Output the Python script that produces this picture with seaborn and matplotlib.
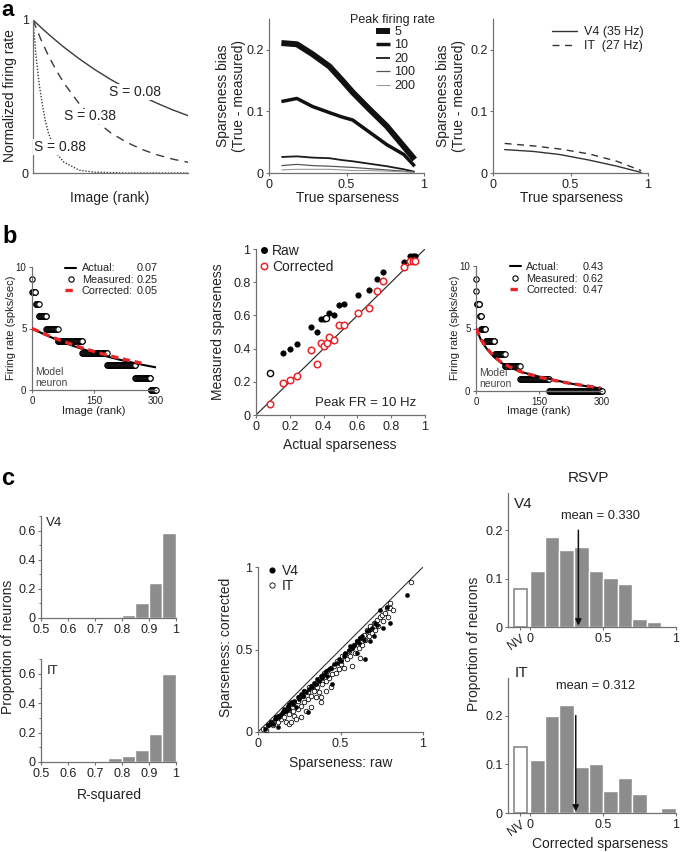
import numpy as np
import seaborn as sns
import matplotlib.pyplot as plt
from matplotlib.lines import Line2D
from matplotlib.ticker import MultipleLocator

# ---- panel a (left): normalized tuning curves, x = image rank as fraction of set
rank_frac = [0, 0.05, 0.1, 0.15, 0.2, 0.3, 0.4, 0.5, 0.6, 0.7, 0.8, 0.9, 1.0]
rate_s008 = [1.0, 0.953, 0.907, 0.864, 0.822, 0.745, 0.675, 0.612, 0.555, 0.503, 0.456, 0.413, 0.375]
rate_s038 = [1.0, 0.875, 0.766, 0.671, 0.587, 0.45, 0.345, 0.264, 0.203, 0.155, 0.119, 0.091, 0.07]
rank_frac_s088 = [0, 0.02, 0.04, 0.06, 0.08, 0.1, 0.15, 0.2, 0.3, 0.4, 0.6, 1.0]
rate_s088 = [1.0, 0.76, 0.58, 0.45, 0.34, 0.26, 0.13, 0.07, 0.018, 0.005, 0.0, 0.0]

# ---- panel a (middle): sparseness bias for several peak firing rates
true_sparse = [0.08, 0.18, 0.28, 0.39, 0.47, 0.54, 0.65, 0.76, 0.87, 0.94]
peak_rates = ["5", "10", "20", "100", "200"]
bias_peak5 = [0.211, 0.209, 0.193, 0.173, 0.151, 0.131, 0.103, 0.076, 0.043, 0.022]
bias_peak10 = [0.116, 0.121, 0.108, 0.098, 0.091, 0.086, 0.066, 0.046, 0.030, 0.011]
bias_peak20 = [0.026, 0.027, 0.025, 0.024, 0.021, 0.019, 0.015, 0.011, 0.006, 0.002]
bias_peak100 = [0.012, 0.014, 0.012, 0.011, 0.010, 0.009, 0.007, 0.005, 0.003, 0.001]
bias_peak200 = [0.005, 0.006, 0.006, 0.006, 0.005, 0.004, 0.004, 0.003, 0.002, 0.001]

# ---- panel a (right): bias at the measured V4 / IT rates
area_sparse = [0.075, 0.26, 0.43, 0.62, 0.80, 0.955]
v4_bias = [0.038, 0.035, 0.030, 0.021, 0.011, 0.001]
it_bias = [0.048, 0.044, 0.039, 0.031, 0.019, 0.004]

# ---- panel b: model neurons (spike count levels and how many images at each)
count_levels = [9, 8, 7, 6, 5, 4, 3, 2, 1, 0]
b1_counts = [1, 8, 8, 18, 28, 59, 60, 68, 37, 13]
b3_counts = [1, 1, 7, 4, 10, 22, 24, 36, 69, 126]
b1_rank = [0, 30, 60, 90, 120, 150, 180, 210, 240, 270, 300]
b1_actual = [5.0, 4.52, 4.09, 3.70, 3.35, 3.03, 2.74, 2.48, 2.25, 2.03, 1.84]
b1_corr_rank = [0, 30, 60, 90, 120, 150, 180, 210, 240, 265]
b1_corrected = [5.0, 4.56, 4.15, 3.78, 3.44, 3.13, 2.85, 2.60, 2.36, 2.18]
b3_rank = [0, 13, 25, 42, 60, 82, 110, 150, 190, 225, 260, 300]
b3_actual = [5.0, 4.0, 3.4, 2.75, 2.25, 1.87, 1.5, 1.15, 0.85, 0.6, 0.4, 0.19]
b3_corr_rank = [0, 13, 25, 42, 60, 82, 110, 150, 190, 225, 260, 296]
b3_corrected = [5.0, 4.05, 3.45, 2.8, 2.3, 1.9, 1.5, 1.12, 0.82, 0.6, 0.42, 0.25]
b1_values = ["0.07", "0.25", "0.05"]
b3_values = ["0.43", "0.62", "0.47"]

# ---- panel b (middle): raw vs corrected sparseness, peak FR 10 Hz
actual_sp = [0.157, 0.201, 0.243, 0.323, 0.363, 0.384, 0.404, 0.432, 0.464, 0.492,
             0.522, 0.606, 0.669, 0.715, 0.751, 0.873, 0.914, 0.930, 0.940]
raw_sp = [0.371, 0.395, 0.425, 0.532, 0.502, 0.579, 0.579, 0.617, 0.601, 0.663,
          0.667, 0.724, 0.754, 0.819, 0.859, 0.921, 0.956, 0.956, 0.956]
actual_sp_hollow = [0.082, 0.414]
raw_sp_hollow = [0.254, 0.583]
actual_sp_corr = [0.080, 0.157, 0.201, 0.243, 0.323, 0.363, 0.384, 0.404, 0.418, 0.432, 0.464,
                  0.492, 0.522, 0.606, 0.669, 0.715, 0.751, 0.873, 0.914, 0.930, 0.940]
corr_sp = [0.065, 0.194, 0.210, 0.236, 0.391, 0.306, 0.435, 0.413, 0.435, 0.472, 0.452,
           0.542, 0.542, 0.613, 0.647, 0.750, 0.808, 0.889, 0.925, 0.925, 0.925]

# ---- panel c (left): R-squared histograms
r2_bins = [0.5, 0.55, 0.6, 0.65, 0.7, 0.75, 0.8, 0.85, 0.9, 0.95]
r2_v4 = [0, 0, 0, 0.006, 0, 0, 0.02, 0.103, 0.24, 0.58]
r2_it = [0, 0, 0, 0, 0, 0.027, 0.043, 0.08, 0.193, 0.6]

# ---- panel c (middle): corrected vs raw sparseness per neuron
v4_raw = [0.04, 0.06, 0.07, 0.08, 0.09, 0.10, 0.11, 0.12, 0.12, 0.13, 0.14, 0.15, 0.16, 0.17,
          0.18, 0.19, 0.19, 0.20, 0.21, 0.22, 0.23, 0.24, 0.25, 0.26, 0.27, 0.28, 0.29, 0.30,
          0.31, 0.32, 0.33, 0.34, 0.35, 0.36, 0.37, 0.38, 0.39, 0.40, 0.41, 0.42, 0.43, 0.44,
          0.45, 0.46, 0.48, 0.49, 0.50, 0.52, 0.53, 0.55, 0.56, 0.57, 0.58, 0.60, 0.60, 0.61,
          0.62, 0.63, 0.64, 0.65, 0.66, 0.67, 0.68, 0.69, 0.70, 0.71, 0.72, 0.74, 0.76, 0.78,
          0.80, 0.90]
v4_corr = [0.02, 0.04, 0.05, 0.06, 0.05, 0.08, 0.09, 0.03, 0.10, 0.09, 0.11, 0.12, 0.14, 0.13,
           0.16, 0.17, 0.14, 0.18, 0.17, 0.19, 0.15, 0.21, 0.20, 0.23, 0.22, 0.25, 0.24, 0.12,
           0.26, 0.28, 0.27, 0.30, 0.29, 0.32, 0.31, 0.34, 0.33, 0.35, 0.37, 0.34, 0.38, 0.39,
           0.29, 0.41, 0.42, 0.44, 0.43, 0.46, 0.48, 0.50, 0.52, 0.51, 0.53, 0.48, 0.55, 0.54,
           0.57, 0.58, 0.56, 0.44, 0.61, 0.62, 0.55, 0.63, 0.58, 0.66, 0.65, 0.74, 0.63, 0.76,
           0.66, 0.83]
it_raw = [0.03, 0.05, 0.06, 0.08, 0.09, 0.10, 0.11, 0.12, 0.13, 0.14, 0.15, 0.16, 0.17, 0.17,
          0.18, 0.19, 0.19, 0.20, 0.20, 0.21, 0.22, 0.22, 0.23, 0.24, 0.24, 0.25, 0.26, 0.26,
          0.27, 0.28, 0.28, 0.29, 0.30, 0.30, 0.31, 0.32, 0.32, 0.33, 0.34, 0.35, 0.35, 0.36,
          0.37, 0.37, 0.38, 0.38, 0.39, 0.39, 0.40, 0.41, 0.41, 0.42, 0.43, 0.44, 0.44, 0.45,
          0.46, 0.47, 0.48, 0.49, 0.50, 0.50, 0.51, 0.52, 0.53, 0.54, 0.55, 0.56, 0.57, 0.57,
          0.58, 0.59, 0.60, 0.61, 0.62, 0.62, 0.63, 0.64, 0.65, 0.66, 0.67, 0.68, 0.69, 0.70,
          0.71, 0.72, 0.73, 0.74, 0.75, 0.76, 0.77, 0.78, 0.79, 0.80, 0.80, 0.82, 0.93]
it_corr = [0.02, 0.01, 0.04, 0.06, 0.04, 0.07, 0.09, 0.06, 0.10, 0.08, 0.12, 0.09, 0.13, 0.06,
           0.15, 0.05, 0.11, 0.17, 0.06, 0.13, 0.18, 0.10, 0.08, 0.19, 0.14, 0.21, 0.16, 0.09,
           0.22, 0.18, 0.25, 0.13, 0.24, 0.20, 0.27, 0.22, 0.15, 0.28, 0.25, 0.30, 0.21, 0.27,
           0.32, 0.24, 0.18, 0.21, 0.34, 0.29, 0.36, 0.31, 0.25, 0.37, 0.33, 0.27, 0.39, 0.35,
           0.40, 0.36, 0.43, 0.38, 0.44, 0.41, 0.46, 0.39, 0.47, 0.44, 0.49, 0.46, 0.40, 0.51,
           0.53, 0.48, 0.55, 0.51, 0.45, 0.57, 0.53, 0.59, 0.56, 0.62, 0.58, 0.64, 0.60, 0.66,
           0.62, 0.68, 0.64, 0.70, 0.71, 0.67, 0.72, 0.75, 0.70, 0.78, 0.75, 0.74, 0.91]

# ---- panel c (right): corrected sparseness distributions (RSVP)
sp_bins = [0, 0.1, 0.2, 0.3, 0.4, 0.5, 0.6, 0.7, 0.8, 0.9]
sp_v4 = [0.116, 0.187, 0.16, 0.165, 0.116, 0.102, 0.088, 0.017, 0.011, 0]
sp_it = [0.108, 0.2, 0.221, 0.094, 0.101, 0.045, 0.072, 0.038, 0, 0.01]
nv_v4 = 0.079
nv_it = 0.135
mean_v4 = 0.330
mean_it = 0.312

sns.set_theme(style="ticks")
plt.rcParams["font.family"] = ["Liberation Sans", "DejaVu Sans"]

W, H = 680, 852
fig = plt.figure(figsize=(W / 100, H / 100), dpi=100)
TXT = "#222222"
SPINE = "#707070"
GRAY_BAR = "#8c8c8c"


def add_ax(left, top, right, bottom):
    # axes box given in figure pixels (origin top-left)
    return fig.add_axes([left / W, 1 - bottom / H, (right - left) / W, (bottom - top) / H])


def fig_text(x, y, s, **kw):
    kw.setdefault("color", TXT)
    fig.text(x / W, 1 - y / H, s, **kw)


def style(ax, ts=9):
    sns.despine(ax=ax)
    for sp in ("left", "bottom"):
        ax.spines[sp].set_color(SPINE)
        ax.spines[sp].set_linewidth(0.9)
    ax.tick_params(labelsize=ts, length=2.5, width=0.8, color=SPINE,
                   labelcolor=TXT, pad=1.5)
    ax.tick_params(which="minor", length=1.5, width=0.7, color=SPINE)


def set_labels(ax, xl, xpos, yl, ypos, fs=10):
    if xl:
        ax.set_xlabel(xl, fontsize=fs, va="center", ha="center", color=TXT)
        ax.xaxis.set_label_coords(xpos[0] / W, 1 - xpos[1] / H, transform=fig.transFigure)
    if yl:
        ax.set_ylabel(yl, fontsize=fs, va="center", ha="center", color=TXT, linespacing=1.1)
        ax.yaxis.set_label_coords(ypos[0] / W, 1 - ypos[1] / H, transform=fig.transFigure)


def numbers_beside_legend(ax, leg, values, x_axes, fs):
    fig.canvas.draw()
    inv = ax.transAxes.inverted()
    for t, v in zip(leg.get_texts(), values):
        bb = t.get_window_extent()
        _, y = inv.transform(((bb.x0 + bb.x1) / 2, (bb.y0 + bb.y1) / 2))
        ax.text(x_axes, y, v, transform=ax.transAxes, fontsize=fs,
                va="center", ha="left", color=TXT)


# panel letters
fig_text(1, 0.5, "a", fontsize=16, fontweight="bold", va="top", color="black")
fig_text(2, 243, "b", fontsize=17, fontweight="bold", va="baseline", color="black")
fig_text(1, 485, "c", fontsize=17, fontweight="bold", va="baseline", color="black")

# ================= a1 =================
ax = add_ax(33, 20, 188, 173)
style(ax)
sns.lineplot(x=rank_frac, y=rate_s008, ax=ax, color="#3a3a3a", lw=1.0, estimator=None, sort=False)
sns.lineplot(x=rank_frac, y=rate_s038, ax=ax, color="#3a3a3a", lw=1.0, estimator=None,
             sort=False, linestyle=(0, (6, 4.5)))
sns.lineplot(x=rank_frac_s088, y=rate_s088, ax=ax, color="#3a3a3a", lw=1.0, estimator=None,
             sort=False, linestyle=(0, (1, 1.2)))
lab_box = dict(fc="white", ec="none", pad=0.6)
ax.text(0.66, 0.53, "S = 0.08", fontsize=10, ha="center", va="center", color=TXT, bbox=lab_box)
ax.text(0.37, 0.37, "S = 0.38", fontsize=10, ha="center", va="center", color=TXT, bbox=lab_box)
ax.text(0.175, 0.17, "S = 0.88", fontsize=10, ha="center", va="center", color=TXT, bbox=lab_box)
ax.set_xlim(0, 1)
ax.set_ylim(0, 1)
ax.set_xticks([])
ax.set_yticks([0, 1])
ax.set_yticklabels(["0", "1"])
ax.tick_params(axis="y", length=0, pad=3)
set_labels(ax, "Image (rank)", (110, 198), "Normalized firing rate", (10, 96))

# ================= a2 =================
ax = add_ax(269, 19, 424, 173)
style(ax)
peak_biases = [bias_peak5, bias_peak10, bias_peak20, bias_peak100, bias_peak200]
peak_lw = [4.3, 2.5, 1.3, 0.9, 0.8]
peak_col = ["#111111", "#111111", "#1a1a1a", "#555555", "#9a9a9a"]
for rate, bias, lw, col in zip(peak_rates, peak_biases, peak_lw, peak_col):
    sns.lineplot(x=true_sparse, y=bias, ax=ax, color=col, lw=lw, label=rate,
                 estimator=None, sort=False, solid_capstyle="butt")
ax.set_xlim(0, 1)
ax.set_ylim(0, 0.25)
ax.set_xticks([0, 0.5, 1])
ax.set_xticklabels(["0", "0.5", "1"])
ax.set_yticks([0, 0.1, 0.2])
ax.set_yticklabels(["0", "0.1", "0.2"])
ax.legend(loc="upper left", bbox_to_anchor=(0.69, 0.955), frameon=False, fontsize=9,
          handlelength=1.1, handletextpad=0.35, labelspacing=0.12, borderpad=0,
          borderaxespad=0, labelcolor=TXT)
fig_text(392, 20, "Peak firing rate", fontsize=9, ha="center", va="center")
set_labels(ax, "True sparseness", (347, 198), "Sparseness bias\n(True - measured)", (231, 96))

# ================= a3 =================
ax = add_ax(493, 19, 648, 173)
style(ax)
sns.lineplot(x=area_sparse, y=v4_bias, ax=ax, color="#333333", lw=1.0, label="V4 (35 Hz)",
             estimator=None, sort=False)
sns.lineplot(x=area_sparse, y=it_bias, ax=ax, color="#333333", lw=1.0, label="IT  (27 Hz)",
             estimator=None, sort=False, linestyle=(0, (5, 4)))
ax.set_xlim(0, 1)
ax.set_ylim(0, 0.25)
ax.set_xticks([0, 0.5, 1])
ax.set_xticklabels(["0", "0.5", "1"])
ax.set_yticks([0, 0.1, 0.2])
ax.set_yticklabels(["0", "0.1", "0.2"])
ax.legend(loc="upper right", bbox_to_anchor=(0.97, 0.955), frameon=False, fontsize=9,
          handlelength=2.0, handletextpad=0.5, labelspacing=0.2, borderpad=0,
          borderaxespad=0, labelcolor=TXT)
set_labels(ax, "True sparseness", (571, 198), "Sparseness bias\n(True - measured)", (451, 96))


# ================= b1 / b3 model neurons =================
def model_neuron(box, counts, rank_pts, actual, corr_rank, corrected, values, xl, yl):
    ax = add_ax(*box)
    style(ax, ts=7)
    measured = np.repeat(count_levels, counts)
    rank = np.arange(len(measured))
    sns.scatterplot(x=rank, y=measured, ax=ax, s=15, color="white", edgecolor="black",
                    linewidth=0.8, clip_on=False, zorder=2, legend=False)
    sns.lineplot(x=rank_pts, y=actual, ax=ax, color="black", lw=1.5, estimator=None,
                 sort=False, zorder=3)
    sns.lineplot(x=corr_rank, y=corrected, ax=ax, color="#e8262a", lw=2.4, estimator=None,
                 sort=False, zorder=4, linestyle=(0, (2.2, 1.4)))
    ax.set_xlim(0, 300)
    ax.set_ylim(0, 10)
    ax.set_xticks([0, 150, 300])
    ax.set_yticks([0, 5, 10])
    ax.text(7, 1.0, "Model\nneuron", fontsize=7.5, color="#444444", va="center", ha="left",
            linespacing=1.15)
    handles = [Line2D([], [], color="black", lw=1.5),
               Line2D([], [], ls="none", marker="o", ms=3.8, mfc="white", mec="black", mew=0.8),
               Line2D([], [], color="#e8262a", lw=2.4, ls=(0, (2.2, 1.4)))]
    leg = ax.legend(handles, ["Actual:", "Measured:", "Corrected:"], loc="upper left",
                    bbox_to_anchor=(0.27, 1.03), frameon=False, fontsize=7.8,
                    handlelength=1.0, handletextpad=0.5, labelspacing=0.12, borderpad=0,
                    borderaxespad=0, labelcolor=TXT)
    numbers_beside_legend(ax, leg, values, 0.845, 7.8)
    set_labels(ax, "Image (rank)", xl, "Firing rate (spks/sec)", yl, fs=8)
    return ax


model_neuron((32, 267, 156, 390), b1_counts, b1_rank, b1_actual, b1_corr_rank, b1_corrected,
             b1_values, (94, 411), (11, 328))
model_neuron((476, 266, 602, 391), b3_counts, b3_rank, b3_actual, b3_corr_rank, b3_corrected,
             b3_values, (539, 411), (455, 328))

# ================= b2 =================
ax = add_ax(256, 249, 425, 415)
style(ax)
sns.lineplot(x=[0, 1], y=[0, 1], ax=ax, color="#333333", lw=0.9, estimator=None)
sns.scatterplot(x=actual_sp, y=raw_sp, ax=ax, s=15, color="black", edgecolor="black",
                linewidth=0.5, clip_on=False, zorder=3, legend=False)
sns.scatterplot(x=actual_sp_hollow, y=raw_sp_hollow, ax=ax, s=20, color="white",
                edgecolor="black", linewidth=1.0, clip_on=False, zorder=3, legend=False)
sns.scatterplot(x=actual_sp_corr, y=corr_sp, ax=ax, s=22, color="white", edgecolor="#e8262a",
                linewidth=1.1, clip_on=False, zorder=4, legend=False)
ax.set_xlim(0, 1)
ax.set_ylim(0, 1)
ticks = [0, 0.2, 0.4, 0.6, 0.8, 1]
tick_lab = ["0", "0.2", "0.4", "0.6", "0.8", "1"]
ax.set_xticks(ticks)
ax.set_xticklabels(tick_lab)
ax.set_yticks(ticks)
ax.set_yticklabels(tick_lab)
ax.text(0.65, 0.07, "Peak FR = 10 Hz", fontsize=9.5, ha="center", va="center", color=TXT)
handles = [Line2D([], [], ls="none", marker="o", ms=4, color="black"),
           Line2D([], [], ls="none", marker="o", ms=4.6, mfc="white", mec="#e8262a", mew=1.1)]
ax.legend(handles, ["Raw", "Corrected"], loc="upper left", bbox_to_anchor=(0.02, 1.03),
          frameon=False, fontsize=10, handlelength=0.6, handletextpad=0.3, labelspacing=0.15,
          borderpad=0, borderaxespad=0, labelcolor=TXT)
set_labels(ax, "Actual sparseness", (340, 445), "Measured sparseness", (218, 332))

# ================= c left: R-squared =================
for box, heights, name, name_y, xlab in [((41, 516, 176, 618), r2_v4, "V4", 0.65, False),
                                          ((41, 659, 176, 762), r2_it, "IT", 0.62, True)]:
    ax = add_ax(*box)
    style(ax)
    ax.bar(r2_bins, heights, width=0.05, align="edge", color=GRAY_BAR, edgecolor="white",
           linewidth=1.0)
    ax.set_xlim(0.5, 1)
    ax.set_ylim(0, 0.7)
    ax.set_xticks([0.5, 0.6, 0.7, 0.8, 0.9, 1])
    ax.set_xticklabels(["0.5", "0.6", "0.7", "0.8", "0.9", "1"])
    ax.set_yticks([0, 0.2, 0.4, 0.6])
    ax.set_yticklabels(["0", "0.2", "0.4", "0.6"])
    ax.yaxis.set_minor_locator(MultipleLocator(0.1))
    ax.text(0.52, name_y, name, fontsize=9.5, ha="left", va="center", color=TXT)
    if xlab:
        set_labels(ax, "R-squared", (109, 795), None, None)
fig_text(8, 647, "Proportion of neurons", fontsize=10, rotation=90, ha="center", va="center")

# ================= c middle: corrected vs raw =================
ax = add_ax(258, 567, 423, 732)
style(ax)
sns.lineplot(x=[0, 1], y=[0, 1], ax=ax, color="#333333", lw=0.8, estimator=None)
sns.scatterplot(x=it_raw, y=it_corr, ax=ax, s=11, color="white", edgecolor="black",
                linewidth=0.55, clip_on=False, zorder=3, legend=False)
sns.scatterplot(x=v4_raw, y=v4_corr, ax=ax, s=9, color="black", edgecolor="black",
                linewidth=0.3, clip_on=False, zorder=4, legend=False)
ax.set_xlim(0, 1)
ax.set_ylim(0, 1)
ax.set_xticks([0, 0.5, 1])
ax.set_xticklabels(["0", "0.5", "1"])
ax.set_yticks([0, 0.5, 1])
ax.set_yticklabels(["0", "0.5", "1"])
handles = [Line2D([], [], ls="none", marker="o", ms=3.4, color="black"),
           Line2D([], [], ls="none", marker="o", ms=3.8, mfc="white", mec="black", mew=0.6)]
ax.legend(handles, ["V4", "IT"], loc="upper left", bbox_to_anchor=(0.06, 1.02),
          frameon=False, fontsize=10, handlelength=0.6, handletextpad=0.4, labelspacing=0.1,
          borderpad=0, borderaxespad=0, labelcolor=TXT)
set_labels(ax, "Sparseness: raw", (341, 763), "Sparseness: corrected", (226, 647))

# ================= c right: RSVP corrected sparseness =================
fig_text(588, 478, "RSVP", fontsize=11, ha="center", va="center")
for box, heights, nv, mean, name, name_y, mean_xy, xlab in [
        ((508, 493, 676, 627), sp_v4, nv_v4, mean_v4, "V4", 0.255, (0.48, 0.23), False),
        ((508, 678, 676, 813), sp_it, nv_it, mean_it, "IT", 0.287, (0.45, 0.26), True)]:
    ax = add_ax(*box)
    style(ax)
    ax.bar(sp_bins, heights, width=0.1, align="edge", color=GRAY_BAR, edgecolor="white",
           linewidth=1.0)
    ax.bar([-0.068], [nv], width=0.085, color="white", edgecolor="#8a8a8a", linewidth=1.2)
    ax.annotate("", xy=(mean, 0.003), xytext=(mean, 0.2),
                arrowprops=dict(arrowstyle="-|>", color="#111111", lw=1.1, mutation_scale=9,
                                shrinkA=0, shrinkB=0))
    ax.text(mean_xy[0], mean_xy[1], "mean = %.3f" % mean, fontsize=9.3, ha="center",
            va="center", color=TXT)
    ax.text(-0.11, name_y, name, fontsize=11, ha="left", va="center", color=TXT, clip_on=False)
    ax.set_xlim(-0.153, 1.0)
    ax.set_ylim(0, 0.277)
    ax.set_xticks([-0.068, 0, 0.5, 1])
    ax.set_xticklabels(["NV", "0", "0.5", "1"])
    nv_lab = ax.get_xticklabels()[0]
    nv_lab.set_rotation(35)
    nv_lab.set_ha("right")
    nv_lab.set_rotation_mode("anchor")
    ax.set_yticks([0, 0.1, 0.2])
    ax.set_yticklabels(["0", "0.1", "0.2"])
    if xlab:
        set_labels(ax, "Corrected sparseness", (600, 844), None, None)
fig_text(474, 644, "Proportion of neurons", fontsize=10, rotation=90, ha="center", va="center")

fig.savefig("out.png", dpi=100)
